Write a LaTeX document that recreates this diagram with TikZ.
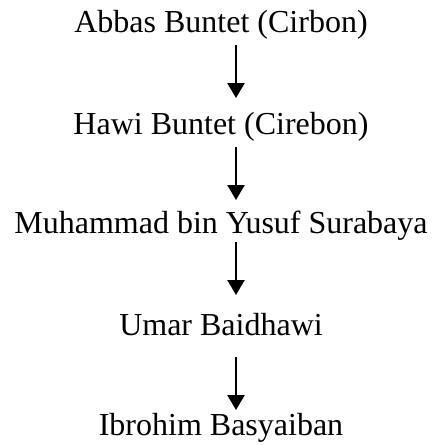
\documentclass[tikz,border=0pt]{standalone}
\usepackage{fontspec}
\setmainfont{Liberation Serif}
\usetikzlibrary{arrows.meta}
\begin{document}
\begin{tikzpicture}[
    person/.style={anchor=base,inner sep=0pt,font=\fontsize{32}{36}\selectfont},
    link/.style={line width=2.4pt,-{Triangle[length=15pt,width=17pt]}}]
      \useasboundingbox (0pt,0pt) rectangle (435pt,-445pt);
      \node[person] (abbas) at (221pt,-32pt) {Abbas Buntet (Cirbon)};
      \node[person] (hawi) at (221pt,-134pt) {Hawi Buntet (Cirebon)};
      \node[person] (yusuf) at (221pt,-233pt) {Muhammad bin Yusuf Surabaya};
      \node[person] (umar) at (221pt,-335pt) {Umar Baidhawi};
      \node[person] (ibrohim) at (221pt,-435pt) {Ibrohim Basyaiban};
      \draw[link] ([xshift=15pt,yshift=-13pt]abbas.base) -- ([xshift=15pt,yshift=36pt]hawi.base);
      \draw[link] ([xshift=15pt,yshift=-13pt]hawi.base) -- ([xshift=15pt,yshift=33pt]yusuf.base);
      \draw[link] ([xshift=15pt,yshift=-9pt]yusuf.base) -- ([xshift=15pt,yshift=40pt]umar.base);
      \draw[link] ([xshift=15pt,yshift=-22pt]umar.base) -- ([xshift=15pt,yshift=25pt]ibrohim.base);
    \end{tikzpicture}
\end{document}
